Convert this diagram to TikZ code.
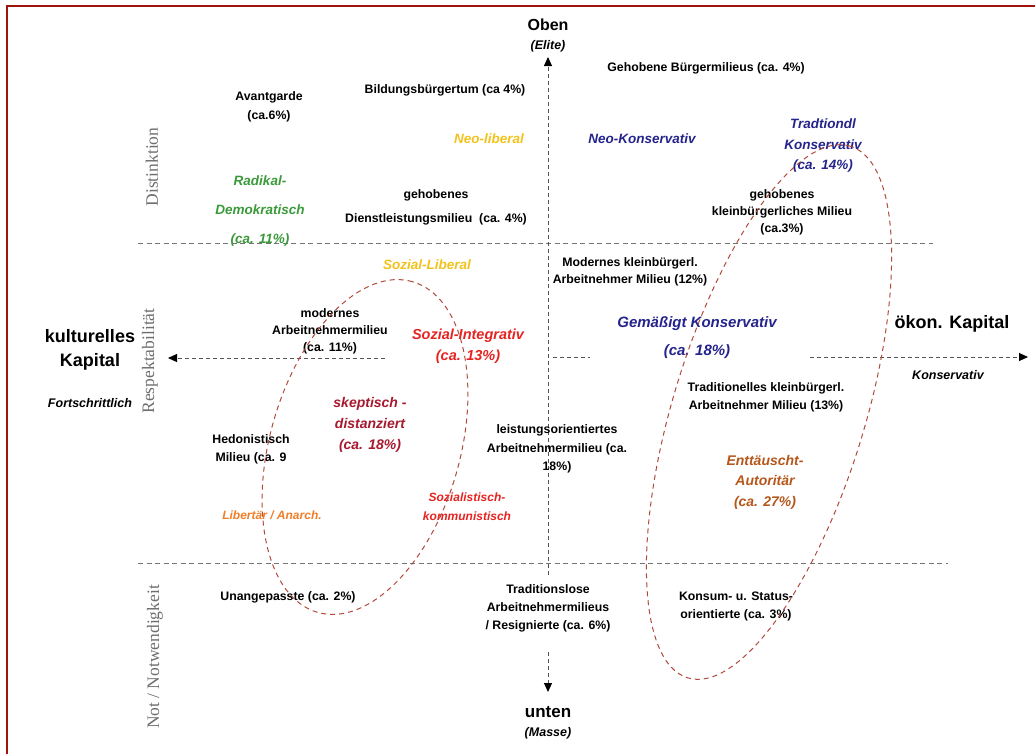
\documentclass[tikz,border=0pt]{standalone}
\usepackage{fontspec}
\setmainfont{Liberation Sans}
\newfontfamily\sideserif{Liberation Serif}
\usetikzlibrary{arrows.meta}
\definecolor{framered}{HTML}{A0140A}
\definecolor{zonegray}{HTML}{747474}
\definecolor{axisgray}{HTML}{555555}
\definecolor{sidegray}{HTML}{6E6E6E}
\definecolor{campred}{HTML}{B04A3A}
\definecolor{radgreen}{HTML}{3A9A3A}
\definecolor{libgold}{HTML}{F2C21C}
\definecolor{konsnavy}{HTML}{24248C}
\definecolor{integred}{HTML}{E52421}
\definecolor{skepred}{HTML}{A6192E}
\definecolor{authbrown}{HTML}{B5561B}
\definecolor{anarchorange}{HTML}{F07D28}
\begin{document}
\begin{tikzpicture}[x=1pt,y=-1pt,line width=0.6pt,
  every node/.style={inner sep=1pt,align=center},
  milieu/.style={font=\bfseries\fontsize{12.3}{18}\selectfont},
  party/.style={font=\bfseries\itshape\fontsize{13.5}{20}\selectfont},
  bigparty/.style={font=\bfseries\itshape\fontsize{14.5}{20.5}\selectfont},
  smallparty/.style={font=\bfseries\itshape\fontsize{12}{19}\selectfont},
  pole/.style={font=\bfseries\fontsize{18}{24}\selectfont},
  polesub/.style={font=\bfseries\itshape\fontsize{12.5}{15}\selectfont},
  side/.style={font=\sideserif\fontsize{17.5}{20}\selectfont,text=sidegray,rotate=90},
  zone/.style={draw=zonegray,dash pattern=on 5pt off 3.5pt,line width=0.9pt},
  axis/.style={draw=axisgray,dash pattern=on 4pt off 3pt,line width=0.9pt,-{Triangle[length=9pt,width=8pt,color=black]}},
  camp/.style={draw=campred,dash pattern=on 5pt off 4pt,line width=1pt}]
\useasboundingbox (0,0) rectangle (1035,753);
\clip (0,0) rectangle (1035,753);
\draw[framered,line width=2.8pt] (7,6) rectangle (1050,770);
% Schichten
\draw[zone] (138,243) -- (933,243);
\draw[zone] (138,563) -- (948,563);
\node[side] (distinktion) at (152,167) {Distinktion};
\node[side] (respekt) at (150,361) {Respektabilität};
\node[side] (notwendig) at (155,657) {Not / Notwendigkeit};
% Pole
\node[pole,font=\bfseries\fontsize{16}{18}\selectfont] (oben) at (548,25) {Oben};
\node[polesub] (elite) at (548,46) {(Elite)};
\node[pole,font=\bfseries\fontsize{17}{18}\selectfont] (unten) at (548,712) {unten};
\node[polesub] (masse) at (548,733) {(Masse)};
\node[pole] (kultur) at (90,350) {kulturelles\\Kapital};
\node[polesub] (fort) at (90,403) {Fortschrittlich};
\node[pole] (oekon) at (952,324) {ökon. Kapital};
\node[polesub] (konsright) at (948,375) {Konservativ};
% Achsen
\coordinate (vtip) at (548,57);
\coordinate (vfoot) at (548,575);
\coordinate (dstart) at (548,652);
\coordinate (dtip) at (548,692);
\coordinate (lstart) at (385,358);
\coordinate (ltip) at (168,358);
\coordinate (mstart) at (553,357);
\coordinate (mend) at (590,357);
\coordinate (rstart) at (810,357);
\coordinate (rtip) at (1028,357);
\draw[axis] (vfoot) -- (vtip);
\draw[axis] (dstart) -- (dtip);
\draw[axis] (lstart) -- (ltip);
\draw[axis,-] (mstart) -- (mend);
\draw[axis] (rstart) -- (rtip);
% Milieus
\node[milieu,font=\bfseries\fontsize{12.3}{19}\selectfont] (avant) at (269,107) {Avantgarde\\(ca.6\%)};
\node[milieu] (bildung) at (445,90) {Bildungsbürgertum (ca 4\%)};
\node[milieu] (gehbuerger) at (706,68) {Gehobene Bürgermilieus (ca. 4\%)};
\node[milieu,font=\bfseries\fontsize{12.3}{17}\selectfont] (gehklein) at (782,212) {gehobenes\\kleinbürgerliches Milieu\\(ca.3\%)};
\node[milieu,font=\bfseries\fontsize{12.3}{24}\selectfont] (gehdienst) at (436,207) {gehobenes\\Dienstleistungsmilieu\ \ (ca. 4\%)};
\node[milieu,font=\bfseries\fontsize{12.3}{17}\selectfont] (modklein) at (630,272) {Modernes kleinbürgerl.\\Arbeitnehmer Milieu (12\%)};
\node[milieu,font=\bfseries\fontsize{12.3}{17}\selectfont] (modarb) at (330,331) {modernes\\Arbeitnehmermilieu\\(ca. 11\%)};
\node[milieu] (hedon) at (251,449) {Hedonistisch\\Milieu (ca. 9};
\node[milieu,font=\bfseries\fontsize{12.3}{18.5}\selectfont] (leistung) at (557,449) {leistungsorientiertes\\Arbeitnehmermilieu (ca.\\18\%)};
\node[milieu] (tradklein) at (766,397) {Traditionelles kleinbürgerl.\\Arbeitnehmer Milieu (13\%)};
\node[milieu] (unangep) at (288,597) {Unangepasste (ca. 2\%)};
\node[milieu] (tradlos) at (548,608) {Traditionslose\\Arbeitnehmermilieus\\/ Resignierte (ca. 6\%)};
\node[milieu] (konsum) at (736,606) {Konsum- u. Status-\\orientierte (ca. 3\%)};
% Lager
\node[party,text=libgold] (neolib) at (489,139) {Neo-liberal};
\node[party,text=konsnavy] (neokons) at (642,139) {Neo-Konservativ};
\node[party,text=konsnavy,font=\bfseries\itshape\fontsize{13.5}{20.5}\selectfont] (tradkons) at (823,146) {Tradtiondl\\Konservativ\\(ca. 14\%)};
\node[party,text=radgreen,font=\bfseries\itshape\fontsize{13.5}{29}\selectfont] (radikal) at (260,211) {Radikal-\\Demokratisch\\(ca. 11\%)};
\node[party,text=libgold] (sozlib) at (427,265) {Sozial-Liberal};
\node[bigparty,text=integred] (sozint) at (468,346) {Sozial-Integrativ\\(ca. 13\%)};
\node[bigparty,text=konsnavy,font=\bfseries\itshape\fontsize{15}{28}\selectfont] (gemkons) at (697,338) {Gemäßigt Konservativ\\(ca. 18\%)};
\node[bigparty,text=skepred,font=\bfseries\itshape\fontsize{14}{21}\selectfont] (skeptisch) at (370,425) {skeptisch -\\distanziert\\(ca. 18\%)};
\node[bigparty,text=authbrown,font=\bfseries\itshape\fontsize{14}{20.5}\selectfont] (enttaeuscht) at (765,482) {Enttäuscht-\\Autoritär\\(ca. 27\%)};
\node[smallparty,text=anarchorange] (libertaer) at (272,515) {Libertär / Anarch.};
\node[smallparty,text=integred] (sozkomm) at (467,507) {Sozialistisch-\\kommunistisch};
% Lagergrenzen
\draw[camp,rotate around={74:(365,447)}] (365,447) ellipse [x radius=172pt,y radius=95pt];
\draw[camp,rotate around={73:(769,412)}] (769,412) ellipse [x radius=278pt,y radius=96pt];
\end{tikzpicture}
\end{document}
